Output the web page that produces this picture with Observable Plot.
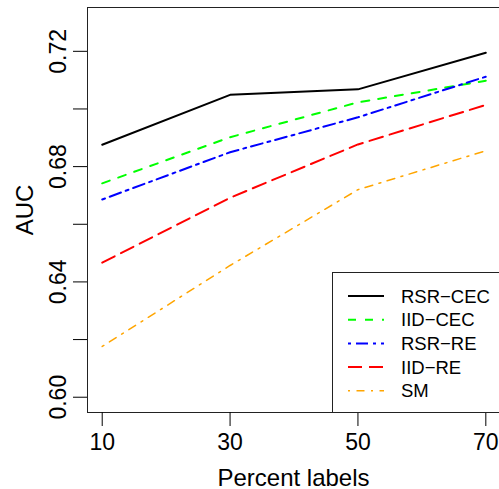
<!DOCTYPE html>
<html><head><meta charset="utf-8">
<script src="https://cdn.jsdelivr.net/npm/d3@7"></script>
<script src="https://cdn.jsdelivr.net/npm/@observablehq/plot@0.6"></script>
<style>
html,body{margin:0;padding:0;background:#fff;overflow:hidden}
#wrap{position:relative;width:499px;height:489px;font-family:"Liberation Sans",Arial,sans-serif}
#wrap svg{display:block}
#legend{position:absolute;left:0;top:0;pointer-events:none}
</style></head><body><div id="wrap"></div>
<script>
const percents = [10, 30, 50, 70];
const seriesNames = ["RSR−CEC", "IID−CEC", "RSR−RE", "IID−RE", "SM"];
const rsrCec = [0.6876, 0.7049, 0.7068, 0.7195];
const iidCec = [0.6742, 0.6902, 0.7023, 0.7098];
const rsrRe  = [0.6686, 0.6850, 0.6971, 0.7112];
const iidRe  = [0.6467, 0.6692, 0.6877, 0.7014];
const sm     = [0.6176, 0.6457, 0.6720, 0.6855];
const seriesValues = [rsrCec, iidCec, rsrRe, iidRe, sm];
const seriesColors = ["#000000", "#00ff00", "#0000ff", "#ff0000", "#ffa500"];
const seriesDashes = [null, "8,9", "3,5,12,5", "14,7", "2,6.5,8,6.5"];
const seriesWidths = [2, 2, 2, 2, 1.5];
const xTicks = [10, 30, 50, 70];
const yTicks = [0.60, 0.62, 0.64, 0.66, 0.68, 0.70, 0.72];
const yTickLabels = [0.60, 0.64, 0.68, 0.72];
const xTitle = "Percent labels";
const yTitle = "AUC";

const font = '"Liberation Sans", Arial, sans-serif';

const lineMarks = seriesNames.map((name, i) =>
  Plot.line(percents.map((p, j) => ({p, v: seriesValues[i][j]})), {
    x: "p", y: "v",
    stroke: seriesColors[i],
    strokeWidth: seriesWidths[i],
    strokeDasharray: seriesDashes[i] || undefined,
    strokeLinejoin: "round"
  })
);

const chart = Plot.plot({
  width: 499, height: 489,
  marginLeft: 87, marginRight: 0, marginTop: 7, marginBottom: 77,
  x: {domain: [7.70, 72.14]},
  y: {domain: [0.5947, 0.7352]},
  style: {fontFamily: font, fontSize: "23px", color: "black", background: "white", overflow: "visible"},
  marks: [
    ...lineMarks,
    Plot.frame({stroke: "#222"}),
    Plot.axisX({ticks: xTicks, tickSize: 14, tickPadding: 7, fontSize: 23, label: null, tickFormat: d3.format("d")}),
    Plot.axisY({ticks: yTicks, tickSize: 14, tickFormat: () => "", label: null}),
    Plot.axisY({ticks: yTickLabels, tickSize: 0, tickPadding: 22, rotate: -90, textAnchor: "middle", lineAnchor: "bottom", fontSize: 23, tickFormat: d3.format(".2f"), label: null}),
    Plot.text([xTitle], {text: d => d, frameAnchor: "bottom", dy: 73, lineAnchor: "bottom", fontSize: 24}),
    Plot.text([yTitle], {text: d => d, frameAnchor: "left", dx: -55, rotate: -90, textAnchor: "middle", lineAnchor: "bottom", fontSize: 24})
  ]
});
const wrap = document.getElementById("wrap");
wrap.appendChild(chart);

// Legend overlay built from the series arrays
const lg = d3.select(wrap).append("svg").attr("id", "legend")
  .attr("width", 499).attr("height", 489);
lg.append("rect").attr("x", 332.5).attr("y", 272.5).attr("width", 200).attr("height", 140)
  .attr("fill", "white").attr("stroke", "#222").attr("stroke-width", 1);
seriesNames.forEach((name, i) => {
  const cy = 296 + i * 23.7;
  lg.append("line").attr("x1", 348).attr("x2", 384).attr("y1", cy).attr("y2", cy)
    .attr("stroke", seriesColors[i]).attr("stroke-width", seriesWidths[i])
    .attr("stroke-dasharray", seriesDashes[i]);
  lg.append("text").attr("x", 401).attr("y", cy).attr("dy", "0.36em")
    .attr("font-family", font).attr("font-size", 18.5).attr("fill", "black").text(name);
});
</script></body></html>
